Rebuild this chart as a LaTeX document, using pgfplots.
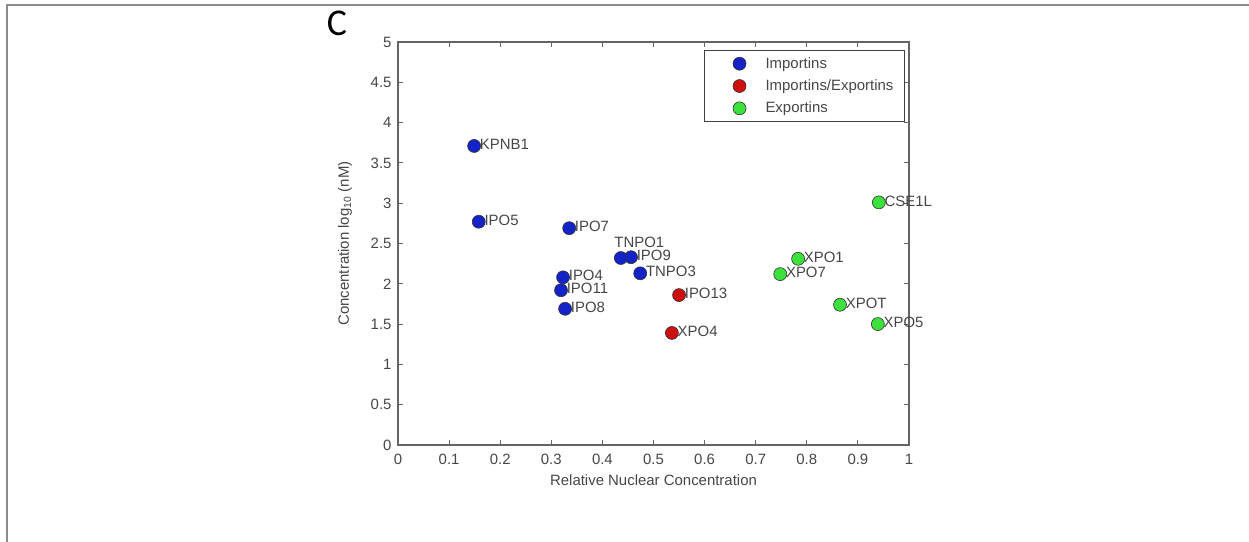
\documentclass[border=0pt]{standalone}
\usepackage{pgfplots}
\pgfplotsset{compat=1.18}
\usepackage{pgfplotstable}
\usepackage{fontspec}
\setmainfont{Liberation Sans}
\newfontfamily\carlito{Carlito}
\definecolor{mblue}{RGB}{20,35,200}
\definecolor{mred}{RGB}{205,15,15}
\definecolor{mgreen}{RGB}{60,225,60}
\definecolor{txt}{RGB}{70,70,70}
\definecolor{axc}{RGB}{100,100,100}

\pgfplotstableread{
x y label
0.149 3.71 KPNB1
0.158 2.77 IPO5
0.335 2.69 IPO7
0.456 2.33 IPO9
0.474 2.13 TNPO3
0.323 2.08 IPO4
0.319 1.92 IPO11
0.327 1.69 IPO8
}\importins
\pgfplotstableread{
x y label
0.436 2.32 TNPO1
}\tnpo
\pgfplotstableread{
x y label
0.550 1.86 IPO13
0.536 1.39 XPO4
}\impexp
\pgfplotstableread{
x y label
0.941 3.01 CSE1L
0.783 2.31 XPO1
0.748 2.12 XPO7
0.865 1.74 XPOT
0.939 1.50 XPO5
}\exportins

\newcommand{\fs}{\fontsize{15}{18}\selectfont}

\begin{document}
\begin{tikzpicture}
\useasboundingbox (0bp,0bp) rectangle (1249bp,542bp);
\draw[black!45, line width=1.3bp] (7bp,0bp) -- (7bp,537bp) -- (1249bp,537bp);
\node[font=\carlito\fontsize{38}{44}\selectfont, inner sep=0pt] at (337bp,519bp) {C};
\begin{axis}[
  at={(398bp,97bp)}, anchor=south west,
  scale only axis, width=511bp, height=403bp,
  xmin=0, xmax=1, ymin=0, ymax=5,
  xtick={0,0.1,0.2,0.3,0.4,0.5,0.6,0.7,0.8,0.9,1},
  ytick={0,0.5,1,1.5,2,2.5,3,3.5,4,4.5,5},
  /pgf/number format/assume math mode=true,
  /pgf/number format/fixed,
  tick align=inside, major tick length=5bp,
  axis line style={axc, line width=1.3bp},
  tick style={axc, line width=1bp},
  ticklabel style={font=\fs, text=txt},
  xticklabel style={yshift=-6bp},
  yticklabel style={xshift=-3bp},
  xlabel={Relative Nuclear Concentration},
  ylabel={Concentration log\textsubscript{10} (nM)},
  label style={font=\fs, text=txt},
  xlabel style={yshift=-3bp},
  ylabel style={yshift=12bp},
  legend style={at={(0.992,0.98)}, anchor=north east, draw=black!75, line width=1bp,
    font=\fs, text=txt, inner xsep=9bp, inner ysep=5bp, row sep=6bp},
  legend cell align=left,
  legend image code/.code={\path[draw=none] (-26bp,0bp) -- (24bp,0bp); \draw[#1] plot coordinates {(0bp,0bp)};},
  nodes near coords style={anchor=west, xshift=5.5bp, yshift=1.5bp, inner sep=0pt, font=\fs, text=txt},
]
\addplot[only marks, mark=*, mark size=6.5bp, mark options={fill=mblue, draw=black!80, line width=0.6bp},
  nodes near coords, point meta=explicit symbolic]
  table[x=x, y=y, meta=label] {\importins};
\addlegendentry{Importins}
\addplot[only marks, mark=*, mark size=6.5bp, mark options={fill=mred, draw=black!80, line width=0.6bp},
  nodes near coords, point meta=explicit symbolic]
  table[x=x, y=y, meta=label] {\impexp};
\addlegendentry{Importins/Exportins}
\addplot[only marks, mark=*, mark size=6.5bp, mark options={fill=mgreen, draw=black!80, line width=0.6bp},
  nodes near coords, point meta=explicit symbolic]
  table[x=x, y=y, meta=label] {\exportins};
\addlegendentry{Exportins}
\addplot[only marks, mark=*, mark size=6.5bp, mark options={fill=mblue, draw=black!80, line width=0.6bp},
  nodes near coords, point meta=explicit symbolic,
  nodes near coords style={anchor=center, xshift=13bp, yshift=14bp}, forget plot]
  table[x=x, y=y, meta=label] {\tnpo};
\end{axis}
\end{tikzpicture}
\end{document}
